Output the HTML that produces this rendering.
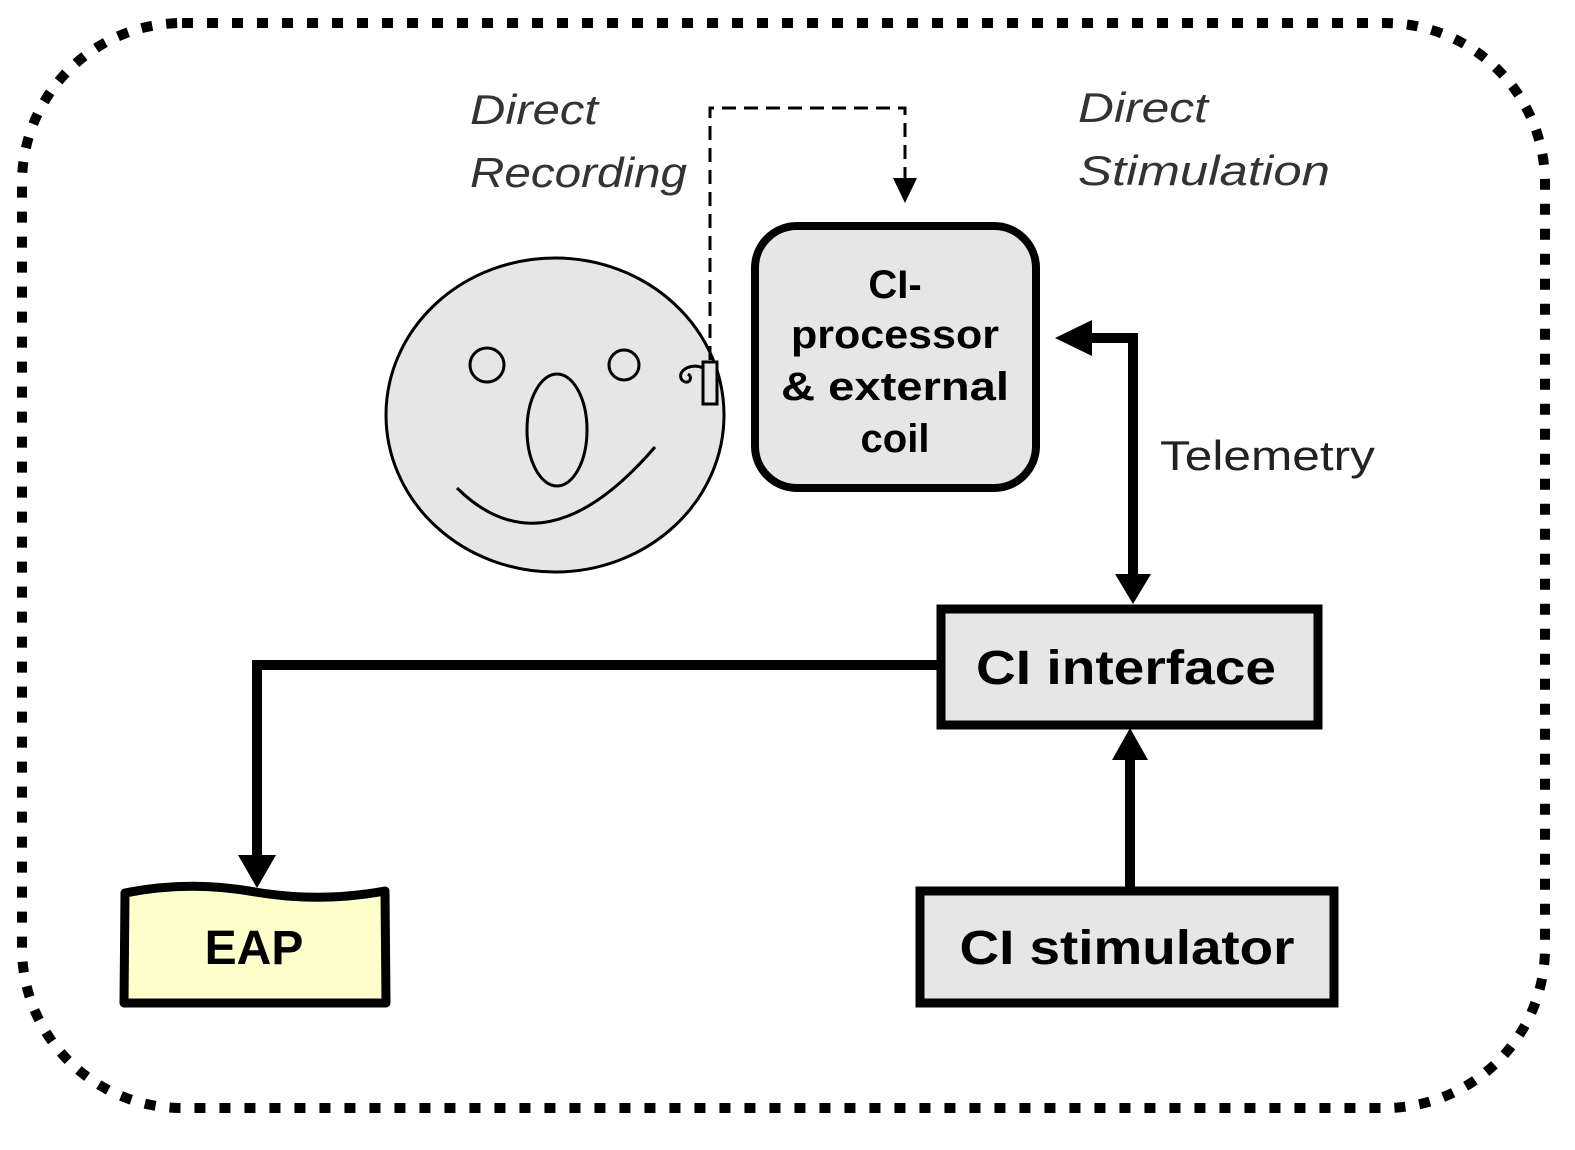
<!DOCTYPE html>
<html><head><meta charset="utf-8"><style>
html,body{margin:0;padding:0;background:#fff;}
svg{display:block;}
</style></head><body>
<svg width="1575" height="1150" viewBox="0 0 1575 1150" xmlns="http://www.w3.org/2000/svg">
<rect x="22" y="23" width="1523" height="1085" rx="160" ry="160" fill="none" stroke="#000" stroke-width="10" stroke-dasharray="11 14"/>
<g font-family="Liberation Sans, sans-serif" font-style="italic" font-size="42" fill="#333">
<text x="470" y="124" textLength="128" lengthAdjust="spacingAndGlyphs">Direct</text>
<text x="470" y="187" textLength="217" lengthAdjust="spacingAndGlyphs">Recording</text>
<text x="1078" y="122" textLength="130" lengthAdjust="spacingAndGlyphs">Direct</text>
<text x="1078" y="185" textLength="252" lengthAdjust="spacingAndGlyphs">Stimulation</text>
</g>
<ellipse cx="555" cy="415" rx="169" ry="157" fill="#e6e6e6" stroke="#000" stroke-width="3"/>
<circle cx="487" cy="365" r="17" fill="none" stroke="#000" stroke-width="3"/>
<circle cx="624" cy="365" r="15" fill="none" stroke="#000" stroke-width="3"/>
<ellipse cx="557" cy="430" rx="30" ry="56" fill="none" stroke="#000" stroke-width="3"/>
<path d="M457 488 Q545 575 655 447" fill="none" stroke="#000" stroke-width="3"/>
<rect x="703" y="362" width="14" height="42" fill="#e6e6e6" stroke="#000" stroke-width="3"/>
<path d="M703 368 C690 362 676 372 682 380 C688 386 694 378 688 374" fill="none" stroke="#000" stroke-width="3"/>
<path d="M710 360 V108 H905 V180" fill="none" stroke="#000" stroke-width="3" stroke-dasharray="14 8"/>
<polygon points="893,178 917,178 905,203" fill="#000"/>
<rect x="755" y="226" width="281" height="262" rx="42" fill="#e6e6e6" stroke="#000" stroke-width="8"/>
<g font-family="Liberation Sans, sans-serif" font-weight="bold" font-size="40" fill="#000" text-anchor="middle">
<text x="895" y="298">CI-</text>
<text x="895" y="348" textLength="208" lengthAdjust="spacingAndGlyphs">processor</text>
<text x="895" y="400" textLength="228" lengthAdjust="spacingAndGlyphs">&amp; external</text>
<text x="895" y="452">coil</text>
</g>
<path d="M1078 338 H1133 V578" fill="none" stroke="#000" stroke-width="10"/>
<polygon points="1055,338 1092,320 1092,356" fill="#000"/>
<polygon points="1115,574 1151,574 1133,604" fill="#000"/>
<text x="1160" y="470" font-family="Liberation Sans, sans-serif" font-size="42" fill="#222" textLength="215" lengthAdjust="spacingAndGlyphs">Telemetry</text>
<rect x="941" y="609" width="377" height="116" fill="#e6e6e6" stroke="#000" stroke-width="9"/>
<text x="1126" y="684" font-family="Liberation Sans, sans-serif" font-weight="bold" font-size="48" text-anchor="middle" textLength="300" lengthAdjust="spacingAndGlyphs">CI interface</text>
<path d="M937 665 H257 V862" fill="none" stroke="#000" stroke-width="10"/>
<polygon points="238,855 276,855 257,888" fill="#000"/>
<rect x="920" y="891" width="414" height="112" fill="#e6e6e6" stroke="#000" stroke-width="9"/>
<text x="1127" y="964" font-family="Liberation Sans, sans-serif" font-weight="bold" font-size="48" text-anchor="middle" textLength="335" lengthAdjust="spacingAndGlyphs">CI stimulator</text>
<path d="M1130 887 V755" fill="none" stroke="#000" stroke-width="10"/>
<polygon points="1112,760 1148,760 1130,728" fill="#000"/>
<path d="M125 893 Q190 880 255 892 Q320 903 385 891 L386 1003 L124 1003 Z" fill="#ffffcc" stroke="#000" stroke-width="9" stroke-linejoin="round"/>
<text x="254" y="964" font-family="Liberation Sans, sans-serif" font-weight="bold" font-size="48" text-anchor="middle">EAP</text>
</svg>
</body></html>
